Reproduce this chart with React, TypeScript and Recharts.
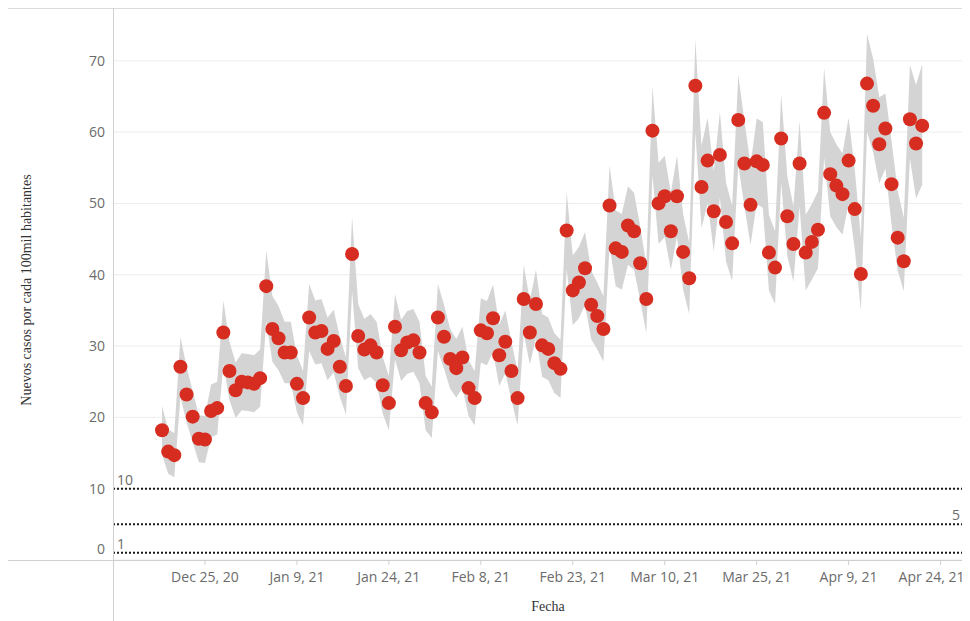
import {
  ComposedChart, Area, Scatter, XAxis, YAxis, CartesianGrid, ReferenceLine,
} from 'recharts';

// daily values from Dec 18, 2020 (index 0) to Apr 21, 2021
const casesPer100k = [
  18.2, 15.2, 14.7, 27.1, 23.2, 20.1, 17.0, 16.9, 20.9, 21.3,
  31.9, 26.5, 23.8, 25.0, 24.9, 24.7, 25.5, 38.4, 32.4, 31.1,
  29.1, 29.1, 24.7, 22.7, 34.0, 31.9, 32.1, 29.6, 30.7, 27.1,
  24.4, 42.9, 31.4, 29.5, 30.1, 29.1, 24.5, 22.0, 32.7, 29.4,
  30.5, 30.8, 29.1, 22.0, 20.7, 34.0, 31.3, 28.2, 26.9, 28.4,
  24.1, 22.7, 32.2, 31.8, 33.9, 28.7, 30.6, 26.5, 22.7, 36.6,
  31.9, 35.9, 30.1, 29.6, 27.6, 26.8, 46.2, 37.8, 38.9, 40.9,
  35.8, 34.2, 32.4, 49.7, 43.7, 43.2, 46.9, 46.1, 41.6, 36.6,
  60.2, 50.0, 51.0, 46.1, 51.0, 43.2, 39.5, 66.5, 52.3, 56.0,
  48.9, 56.8, 47.4, 44.4, 61.7, 55.6, 49.8, 55.9, 55.4, 43.1,
  41.0, 59.1, 48.2, 44.3, 55.6, 43.1, 44.6, 46.3, 62.7, 54.1,
  52.5, 51.3, 56.0, 49.2, 40.1, 66.8, 63.7, 58.3, 60.5, 52.7,
  45.2, 41.9, 61.8, 58.4, 60.9,
];

const bandLow = [
  14.8, 12.1, 11.6, 22.9, 19.3, 16.5, 13.7, 13.6, 17.2, 17.6,
  27.4, 22.4, 19.9, 21.0, 20.9, 20.7, 21.5, 33.4, 27.8, 26.6,
  24.8, 24.8, 20.7, 18.9, 29.3, 27.4, 27.6, 25.2, 26.3, 22.9,
  20.4, 37.7, 26.9, 25.2, 25.7, 24.8, 20.5, 18.2, 28.1, 25.1,
  26.1, 26.4, 24.8, 18.2, 17.1, 29.3, 26.8, 24.0, 22.8, 24.1,
  20.2, 18.9, 27.7, 27.3, 29.2, 24.4, 26.2, 22.4, 18.9, 31.8,
  27.4, 31.1, 25.7, 25.2, 23.4, 22.7, 40.8, 32.9, 33.9, 35.8,
  31.0, 29.5, 27.8, 44.1, 38.4, 37.9, 41.4, 40.7, 36.4, 31.8,
  54.0, 44.3, 45.3, 40.7, 45.3, 37.9, 34.5, 60.0, 46.5, 50.0,
  43.3, 50.8, 41.9, 39.1, 55.4, 49.6, 44.2, 49.9, 49.4, 37.8,
  35.9, 52.9, 42.6, 39.0, 49.6, 37.8, 39.3, 40.9, 56.4, 48.2,
  46.7, 45.6, 50.0, 43.6, 35.0, 60.0, 57.2, 52.8, 54.9, 47.0,
  40.6, 37.7, 56.3, 50.7, 52.6,
];

const bandHigh = [
  21.6, 18.3, 17.8, 31.3, 27.1, 23.7, 20.3, 20.2, 24.6, 25.0,
  36.4, 30.6, 27.7, 29.0, 28.9, 28.7, 29.5, 43.4, 37.0, 35.6,
  33.4, 33.4, 28.7, 26.5, 38.7, 36.4, 36.6, 34.0, 35.1, 31.3,
  28.4, 48.1, 35.9, 33.8, 34.5, 33.4, 28.5, 25.8, 37.3, 33.7,
  34.9, 35.2, 33.4, 25.8, 24.3, 38.7, 35.8, 32.4, 31.0, 32.7,
  28.0, 26.5, 36.7, 36.3, 38.6, 33.0, 35.0, 30.6, 26.5, 41.4,
  36.4, 40.7, 34.5, 34.0, 31.8, 30.9, 51.6, 42.7, 43.9, 46.0,
  40.6, 38.9, 37.0, 55.3, 49.0, 48.5, 52.4, 51.5, 46.8, 41.4,
  66.4, 55.7, 56.7, 51.5, 56.7, 48.5, 44.5, 73.0, 58.1, 62.0,
  54.5, 62.8, 52.9, 49.7, 68.0, 61.6, 55.4, 61.9, 61.4, 48.4,
  46.1, 65.3, 53.8, 49.6, 61.6, 48.4, 49.9, 51.7, 69.0, 60.0,
  58.3, 57.0, 62.0, 54.8, 45.2, 73.8, 70.3, 64.9, 65.4, 58.8,
  51.8, 48.0, 69.4, 66.6, 69.5,
];

// x ticks, as day offsets from Dec 18, 2020
const tickDays = [7, 22, 37, 52, 67, 82, 97, 112, 127];
const tickLabels = [
  'Dec 25, 20', 'Jan 9, 21', 'Jan 24, 21', 'Feb 8, 21', 'Feb 23, 21',
  'Mar 10, 21', 'Mar 25, 21', 'Apr 9, 21', 'Apr 24, 21',
];
const yTicks = [0, 10, 20, 30, 40, 50, 60, 70];
const thresholds = [
  { value: 10, label: '10', side: 'left' },
  { value: 5, label: '5', side: 'right' },
  { value: 1, label: '1', side: 'left' },
];

const W = 962;
const H = 613;
const PLOT_LEFT = 105;
const PLOT_BOTTOM = 552;
const LABEL_FONT = '"Open Sans", sans-serif';
const LABEL_COLOR = '#6b6b6b';
const AXIS_COLOR = '#cfcfcf';

const data = casesPer100k.map((v, i) => ({
  day: i,
  value: v,
  band: [bandLow[i], bandHigh[i]],
}));

const XTick = ({ x, y, payload, index }: any) => {
  const label = tickLabels[tickDays.indexOf(payload.value)] ?? '';
  const shift = index === tickDays.length - 1 ? -9 : 0;
  return (
    <text x={x + shift} y={y} dy="0.71em" textAnchor="middle" fill={LABEL_COLOR}
      fontSize={14} fontFamily={LABEL_FONT}>
      {label}
    </text>
  );
};

const YTick = ({ x, y, payload }: any) => (
  <text x={x} y={payload.value === 0 ? y - 11 : y} dy={5} textAnchor="end"
    fill={LABEL_COLOR} fontSize={14} fontFamily={LABEL_FONT}>
    {payload.value}
  </text>
);

// the right-most few pixels get cut off in the capture, so the "5" sits a bit inside
const ThresholdLabel = ({ viewBox, text, side }: any) => {
  const right = side === 'right';
  return (
    <text x={right ? W - 10 : PLOT_LEFT + 4} y={viewBox.y - 4}
      textAnchor={right ? 'end' : 'start'}
      fill={LABEL_COLOR} fontSize={14} fontFamily={LABEL_FONT}>
      {text}
    </text>
  );
};

const Dot = ({ cx, cy }: any) => <circle cx={cx} cy={cy} r={7} fill="#d62d20" />;

export default function App() {
  return (
    <div style={{ position: 'relative', width: W, height: H }}>
      <ComposedChart width={W} height={H} data={data}
        margin={{ top: 0, right: 0, bottom: 0, left: 0 }}>
        <CartesianGrid stroke="#ededed" vertical={false} />
        <XAxis type="number" dataKey="day" domain={[-8, 131.8]} ticks={tickDays}
          height={H - PLOT_BOTTOM} axisLine={false} tickSize={5}
          tickLine={{ stroke: AXIS_COLOR }} tickMargin={7} tick={<XTick />}
          interval={0} allowDataOverflow />
        <YAxis type="number" domain={[0, 77.4]} ticks={yTicks} width={PLOT_LEFT}
          axisLine={false} tickLine={false} tickSize={0} tickMargin={8}
          tick={<YTick />} allowDataOverflow />
        <Area dataKey="band" type="linear" stroke="none" fill="#d4d4d4"
          fillOpacity={1} isAnimationActive={false} />
        {thresholds.map((t) => (
          <ReferenceLine key={t.value} y={t.value} stroke="#1a1a1a"
            strokeWidth={2} strokeDasharray="2 2"
            label={<ThresholdLabel text={t.label} side={t.side} />} />
        ))}
        <Scatter dataKey="value" shape={<Dot />} isAnimationActive={false} />
      </ComposedChart>

      {/* frame lines, as in the original layout */}
      <div style={{ position: 'absolute', left: 0, top: 0, width: W, height: 1, background: '#dcdcdc' }} />
      <div style={{ position: 'absolute', left: 0, top: PLOT_BOTTOM, width: W, height: 1, background: AXIS_COLOR }} />
      <div style={{ position: 'absolute', left: PLOT_LEFT, top: 0, width: 1, height: H, background: AXIS_COLOR }} />

      <div style={{
        position: 'absolute', left: 20 - 160, top: 282 - 9, width: 320, height: 18,
        textAlign: 'center', transform: 'rotate(-90deg)',
        fontFamily: '"Liberation Serif", serif', fontSize: 14, color: '#333',
      }}>
        Nuevos casos por cada 100mil habitantes
      </div>
      <div style={{
        position: 'absolute', left: 440, top: 591, width: 200, textAlign: 'center',
        fontFamily: '"Liberation Serif", serif', fontSize: 14, color: '#333',
      }}>
        Fecha
      </div>
    </div>
  );
}
